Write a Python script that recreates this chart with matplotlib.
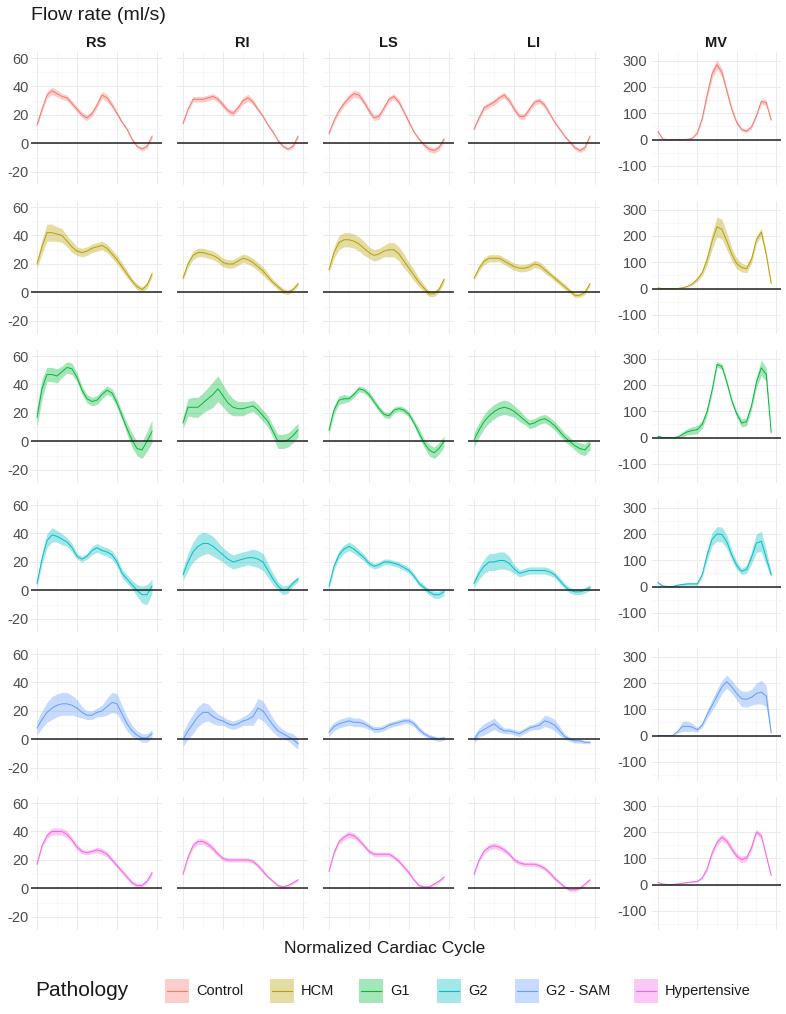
import matplotlib
matplotlib.use("Agg")
import matplotlib.pyplot as plt
from matplotlib.patches import Rectangle
from matplotlib.lines import Line2D
import numpy as np

plt.rcParams["font.family"] = ["Liberation Sans", "DejaVu Sans"]
plt.rcParams["axes.unicode_minus"] = False

W, H = 786, 1014

# ---- data: mean flow (ml/s) per normalized frame, and half-width of the band ----
frames = list(range(24))
regions = ["RS", "RI", "LS", "LI", "MV"]
groups = ["Control", "HCM", "G1", "G2", "G2 - SAM", "Hypertensive"]
colors = ["#F8766D", "#B79F00", "#00BA38", "#00BFC4", "#619CFF", "#F564E3"]

control_rs = [13, 24, 34, 37, 35, 33, 32, 28, 24, 20, 18, 21, 27, 34, 32, 27, 21, 15, 10, 3, -2, -4, -2, 5]
control_rs_err = [1.5, 2, 2.5, 2.5, 2.5, 2, 2, 2, 2, 2, 2, 2, 2, 2.5, 2.5, 2, 1.5, 1, 1, 1, 1, 1.5, 1.5, 1.5]
control_ri = [14, 24, 31, 31, 31, 32, 33, 31, 27, 23, 21, 25, 30, 32, 29, 24, 19, 13, 8, 2, -2, -4, -2, 5]
control_ri_err = [1, 1.5, 2, 2, 2, 2, 2, 2, 2, 2, 2, 2, 2.5, 2.5, 2, 1.5, 1, 1, 1, 1, 1, 1, 1.5, 1.5]
control_ls = [7, 16, 23, 28, 32, 35, 34, 29, 23, 18, 19, 25, 31, 33, 29, 22, 15, 8, 3, -1, -4, -5, -3, 3]
control_ls_err = [1, 1.5, 2, 2, 2.5, 2.5, 2.5, 2, 2, 2, 2, 2, 2, 2, 2, 1.5, 1.5, 1, 1, 1.5, 2, 2, 2, 2]
control_li = [10, 18, 25, 27, 29, 32, 34, 30, 24, 19, 19, 24, 29, 30, 27, 21, 15, 10, 5, 1, -3, -5, -3, 5]
control_li_err = [1, 1.5, 2, 2, 2, 2, 2, 2, 2, 2, 2, 2, 2, 2, 2, 1.5, 1, 1, 1, 1, 1.5, 1.5, 1.5, 1.5]
control_mv = [30, 2, 0, 0, 0, 0, 1, 5, 25, 80, 170, 250, 285, 255, 185, 115, 65, 38, 32, 48, 90, 145, 140, 75]
control_mv_err = [5, 2, 1, 1, 1, 1, 1, 2, 5, 10, 15, 18, 18, 15, 12, 10, 8, 6, 6, 7, 8, 10, 10, 8]

hcm_rs = [20, 32, 42, 42, 41, 40, 36, 32, 29, 28, 29, 31, 32, 33, 31, 27, 23, 18, 13, 8, 4, 2, 5, 13]
hcm_rs_err = [3, 5, 6, 6, 5, 5, 4, 4, 3, 3, 3, 3, 3, 3, 3, 3, 3, 3, 2.5, 2, 2, 2, 2, 2]
hcm_ri = [10, 20, 26, 28, 28, 27, 26, 24, 21, 20, 20, 22, 24, 23, 21, 18, 15, 11, 7, 4, 1, 0, 2, 6]
hcm_ri_err = [1.5, 2.5, 3, 3, 3, 3, 3, 3, 3, 3, 3, 3, 3, 3, 3, 3, 3, 2.5, 2, 2, 2, 1.5, 1.5, 1.5]
hcm_ls = [16, 28, 35, 37, 37, 36, 34, 31, 28, 26, 27, 29, 30, 30, 27, 22, 17, 12, 7, 3, -1, -1, 2, 9]
hcm_ls_err = [2, 4, 5, 5, 5, 5, 5, 5, 4, 4, 4, 4, 5, 5, 5, 5, 4, 4, 3, 2.5, 2, 2, 2, 2]
hcm_li = [10, 17, 22, 24, 24, 24, 22, 20, 18, 17, 17, 18, 20, 19, 16, 13, 10, 7, 4, 1, -2, -2, 0, 6]
hcm_li_err = [1, 2, 2.5, 2.5, 2.5, 2.5, 2.5, 2.5, 2.5, 2.5, 2.5, 2.5, 2.5, 2.5, 2.5, 2, 2, 2, 2, 1.5, 1.5, 1.5, 1.5, 1.5]
hcm_mv = [2, 0, 0, 0, 0, 3, 8, 18, 35, 60, 110, 180, 235, 225, 180, 130, 95, 80, 75, 110, 185, 215, 130, 20]
hcm_mv_err = [1, 1, 1, 1, 1, 2, 3, 5, 8, 12, 20, 30, 38, 38, 32, 25, 20, 17, 15, 15, 15, 15, 12, 5]

g1_rs = [17, 37, 47, 47, 46, 49, 52, 51, 45, 36, 30, 28, 29, 33, 36, 34, 27, 18, 9, 1, -5, -6, 0, 7]
g1_rs_err = [7, 7, 5, 5, 5, 4, 4, 4, 3, 3, 3, 3, 3, 3, 3, 3, 3, 3, 4, 5, 5, 6, 7, 8]
g1_ri = [13, 24, 24, 24, 27, 30, 33, 37, 32, 27, 24, 23, 23, 24, 25, 22, 18, 14, 7, 0, 0, 1, 4, 8]
g1_ri_err = [4, 6, 7, 7, 7, 8, 9, 9, 8, 7, 6, 5, 5, 4, 4, 4, 4, 4, 4, 5, 5, 5, 5, 5]
g1_ls = [8, 22, 29, 30, 30, 33, 37, 36, 33, 28, 23, 19, 18, 22, 23, 22, 19, 13, 6, -1, -6, -8, -5, 0]
g1_ls_err = [3, 3, 3, 3, 2, 2, 2, 2, 2, 2, 2, 2, 2, 2, 2, 2, 2, 2, 3, 3, 4, 4, 4, 4]
g1_li = [1, 8, 14, 18, 21, 23, 24, 23, 21, 18, 15, 12, 13, 15, 16, 14, 11, 7, 3, 0, -3, -5, -6, -2]
g1_li_err = [5, 5, 5, 5, 5, 5, 5, 5, 4, 4, 3, 3, 3, 3, 3, 3, 3, 3, 3, 3, 3, 4, 4, 4]
g1_mv = [5, 0, 0, 0, 2, 12, 22, 27, 30, 50, 100, 180, 278, 270, 210, 140, 90, 55, 60, 120, 210, 265, 240, 20]
g1_mv_err = [2, 1, 1, 1, 3, 10, 12, 15, 15, 15, 15, 12, 10, 10, 10, 10, 12, 15, 15, 15, 20, 30, 25, 5]

g2_rs = [5, 22, 35, 39, 38, 36, 34, 30, 24, 22, 24, 28, 30, 28, 27, 25, 20, 12, 8, 4, 0, -3, -3, 3]
g2_rs_err = [3, 4, 5, 5, 4, 4, 3, 3, 2, 2, 2, 3, 3, 3, 3, 3, 3, 3, 3, 3, 4, 6, 7, 5]
g2_ri = [11, 20, 27, 31, 33, 33, 31, 28, 25, 22, 20, 21, 22, 23, 23, 22, 20, 14, 8, 3, 0, 1, 5, 8]
g2_ri_err = [4, 6, 7, 8, 8, 7, 7, 6, 5, 5, 5, 5, 5, 5, 6, 6, 6, 5, 4, 3, 3, 3, 2, 2]
g2_ls = [3, 17, 25, 29, 31, 29, 26, 23, 19, 17, 18, 20, 20, 19, 18, 16, 14, 10, 5, 2, -1, -3, -3, -1]
g2_ls_err = [2, 2.5, 3, 3, 3, 3, 2.5, 2.5, 2, 2, 2, 2, 2, 2, 2, 2, 2, 2, 2, 2, 2, 2.5, 2.5, 2.5]
g2_li = [5, 12, 17, 20, 20, 21, 21, 19, 15, 12, 13, 14, 14, 14, 14, 13, 11, 7, 3, 0, -1, -1, 0, 2]
g2_li_err = [3, 4, 5, 6, 6, 6, 6, 5, 3, 2.5, 2.5, 2.5, 2.5, 2.5, 2.5, 2.5, 2, 2, 2, 2, 2, 2, 2, 2]
g2_mv = [15, 2, 0, 0, 5, 8, 10, 10, 10, 45, 120, 180, 200, 198, 170, 120, 80, 58, 65, 110, 165, 172, 110, 45]
g2_mv_err = [3, 1, 1, 1, 3, 4, 5, 5, 5, 10, 20, 25, 28, 28, 25, 20, 15, 12, 15, 25, 35, 38, 30, 10]

sam_rs = [8, 14, 19, 22, 24, 25, 25, 24, 22, 19, 17, 17, 19, 20, 23, 26, 25, 18, 11, 6, 3, 1, 1, 4]
sam_rs_err = [5, 6, 7, 8, 8, 8, 8, 7, 6, 4, 3, 3, 3, 4, 6, 7, 7, 6, 5, 4, 3, 3, 3, 3]
sam_ri = [0, 6, 11, 16, 19, 19, 16, 14, 13, 11, 10, 11, 13, 14, 16, 22, 20, 15, 10, 6, 4, 2, 0, -3]
sam_ri_err = [5, 6, 7, 7, 7, 6, 5, 4, 3, 3, 3, 3, 3, 4, 6, 7, 7, 6, 5, 4, 3, 3, 4, 4]
sam_ls = [5, 9, 11, 12, 13, 12, 12, 11, 9, 7, 7, 8, 10, 11, 12, 13, 13, 11, 7, 4, 2, 1, 0, 1]
sam_ls_err = [3, 3, 3, 3, 3, 3, 3, 2.5, 2, 2, 2, 2, 2, 2, 2, 2, 2, 2, 2, 1.5, 1.5, 1.5, 1.5, 1.5]
sam_li = [0, 5, 7, 9, 11, 8, 6, 6, 5, 4, 6, 8, 9, 10, 13, 12, 10, 6, 2, 0, -1, -1, -2, -2]
sam_li_err = [3, 3, 4, 4, 4, 3, 2, 2, 2, 2, 2, 2, 2, 3, 4, 4, 4, 3, 2, 1.5, 1.5, 1.5, 1, 1]
sam_mv = [0, 0, 0, 0, 15, 35, 35, 32, 22, 40, 80, 115, 150, 185, 205, 185, 160, 140, 138, 145, 160, 165, 150, 10]
sam_mv_err = [0, 0, 0, 0, 5, 20, 20, 15, 8, 10, 15, 20, 25, 25, 25, 25, 25, 30, 30, 30, 40, 45, 40, 5]

hyp_rs = [17, 30, 37, 40, 40, 40, 38, 34, 29, 26, 25, 26, 27, 26, 24, 20, 16, 12, 8, 4, 2, 2, 5, 11]
hyp_rs_err = [1, 1.5, 2, 2.5, 2.5, 2.5, 2.5, 2, 2, 1.5, 1.5, 1.5, 2, 2, 2, 1.5, 1.5, 1.5, 1.5, 1.5, 1.5, 1.5, 1.5, 1.5]
hyp_ri = [10, 22, 30, 33, 33, 31, 28, 24, 21, 20, 20, 20, 20, 20, 19, 16, 12, 8, 5, 2, 1, 2, 4, 6]
hyp_ri_err = [1, 1.5, 2, 2, 2, 2, 2, 1.5, 1.5, 1.5, 1.5, 1.5, 1.5, 1.5, 1.5, 1.5, 1.5, 1, 1, 1, 1, 1, 1, 1]
hyp_ls = [12, 25, 33, 36, 38, 37, 34, 30, 26, 24, 24, 24, 24, 22, 19, 15, 11, 6, 2, 1, 1, 3, 5, 8]
hyp_ls_err = [1, 1.5, 2, 2, 2, 2, 2, 1.5, 1.5, 1.5, 1.5, 1.5, 1.5, 1.5, 1.5, 1.5, 1.5, 1, 1, 1, 1, 1, 1, 1]
hyp_li = [10, 20, 26, 29, 30, 29, 27, 24, 20, 18, 17, 17, 17, 16, 14, 11, 7, 4, 1, -1, -1, 0, 3, 6]
hyp_li_err = [1, 1.5, 2, 2, 2, 2, 2, 1.5, 1.5, 1.5, 1.5, 1.5, 1.5, 1.5, 1.5, 1.5, 1.5, 1, 1, 1, 1, 1, 1, 1]
hyp_mv = [8, 2, 0, 0, 2, 5, 8, 10, 12, 25, 60, 120, 160, 180, 165, 135, 108, 95, 100, 140, 200, 185, 110, 35]
hyp_mv_err = [2, 1, 1, 1, 1, 2, 2, 3, 3, 5, 8, 10, 12, 12, 12, 12, 12, 12, 12, 12, 10, 10, 8, 4]

table = {
    "Control": [(control_rs, control_rs_err), (control_ri, control_ri_err), (control_ls, control_ls_err),
                (control_li, control_li_err), (control_mv, control_mv_err)],
    "HCM": [(hcm_rs, hcm_rs_err), (hcm_ri, hcm_ri_err), (hcm_ls, hcm_ls_err),
            (hcm_li, hcm_li_err), (hcm_mv, hcm_mv_err)],
    "G1": [(g1_rs, g1_rs_err), (g1_ri, g1_ri_err), (g1_ls, g1_ls_err),
           (g1_li, g1_li_err), (g1_mv, g1_mv_err)],
    "G2": [(g2_rs, g2_rs_err), (g2_ri, g2_ri_err), (g2_ls, g2_ls_err),
           (g2_li, g2_li_err), (g2_mv, g2_mv_err)],
    "G2 - SAM": [(sam_rs, sam_rs_err), (sam_ri, sam_ri_err), (sam_ls, sam_ls_err),
                 (sam_li, sam_li_err), (sam_mv, sam_mv_err)],
    "Hypertensive": [(hyp_rs, hyp_rs_err), (hyp_ri, hyp_ri_err), (hyp_ls, hyp_ls_err),
                     (hyp_li, hyp_li_err), (hyp_mv, hyp_mv_err)],
}

valve_ticks = [-20, 0, 20, 40, 60]
mv_ticks = [-100, 0, 100, 200, 300]

# ---- layout (pixels) ----
COL_LEFT = [31, 177, 323, 468, 652]
COL_W = [131, 131, 131, 132, 129]
ROW_TOP0, ROW_STEP, PANEL_H = 52, 149, 133
ALPHA = 0.36
GRID_MAJ = "#EBEBEB"
GRID_MIN = "#F4F4F4"
TXT = "#4D4D4D"


def px_box(left, top, width, height):
    return [left / W, 1 - (top + height) / H, width / W, height / H]


fig = plt.figure(figsize=(W / 100, H / 100), dpi=100)

for r, grp in enumerate(groups):
    top = ROW_TOP0 + r * ROW_STEP
    for c, reg in enumerate(regions):
        mean, err = table[grp][c]
        mean = np.asarray(mean, float)
        err = np.asarray(err, float)
        ax = fig.add_axes(px_box(COL_LEFT[c], top, COL_W[c], PANEL_H))
        ax.set_xlim(-1.2, 25.0)
        ax.set_xticks([0, 8, 16, 24])
        ax.set_xticks([4, 12, 20], minor=True)
        if reg == "MV":
            ax.set_ylim(-173, 333)
            ax.set_yticks(mv_ticks)
            ax.set_yticks([-150, -50, 50, 150, 250], minor=True)
        else:
            ax.set_ylim(-29.25, 64.25)
            ax.set_yticks(valve_ticks)
            ax.set_yticks([-10, 10, 30, 50], minor=True)
        ax.grid(which="major", color=GRID_MAJ, linewidth=0.7)
        ax.grid(which="minor", color=GRID_MIN, linewidth=0.45)
        ax.set_axisbelow(True)
        for s in ax.spines.values():
            s.set_visible(False)
        show_y = c in (0, 4)
        ax.tick_params(which="both", length=0, labelbottom=False, labelleft=show_y,
                       labelsize=10.5, labelcolor=TXT, pad=1.5 if c == 0 else 3.5)

        ax.fill_between(frames, mean - err, mean + err, color=colors[r],
                        alpha=ALPHA, linewidth=0, zorder=2)
        ax.plot(frames, mean, color=colors[r], linewidth=0.7, zorder=3)
        ax.axhline(0, color="#222222", linewidth=1.1, zorder=4)

        if r == 0:
            fig.text((COL_LEFT[c] + COL_W[c] / 2) / W, 1 - 43 / H, reg,
                     ha="center", va="center", fontsize=10.5, fontweight="bold",
                     color="#1A1A1A")

fig.text(31 / W, 1 - 15 / H, "Flow rate (ml/s)", ha="left", va="center",
         fontsize=14, color="#1A1A1A")
fig.text(385 / W, 1 - 948 / H, "Normalized Cardiac Cycle", ha="center", va="center",
         fontsize=12.5, color="#1A1A1A")

# ---- legend ----
fig.text(35 / W, 1 - 991 / H, "Pathology", ha="left", va="center",
         fontsize=15, color="#1A1A1A")
key_left = [165, 270, 359, 437, 515, 634]
KEY = 24
for grp, col, kx in zip(groups, colors, key_left):
    y_c = 991
    fig.patches.append(Rectangle((kx / W, 1 - (y_c + KEY / 2) / H), KEY / W, KEY / H,
                                 transform=fig.transFigure, facecolor=col,
                                 alpha=ALPHA, edgecolor="none"))
    fig.lines.append(Line2D([(kx + 2) / W, (kx + KEY - 2) / W], [1 - y_c / H, 1 - y_c / H],
                            transform=fig.transFigure, color=col, linewidth=0.8))
    fig.text((kx + KEY + 7) / W, 1 - y_c / H, grp, ha="left", va="center",
             fontsize=10.5, color="#1A1A1A")

fig.savefig("out.png", dpi=100)
